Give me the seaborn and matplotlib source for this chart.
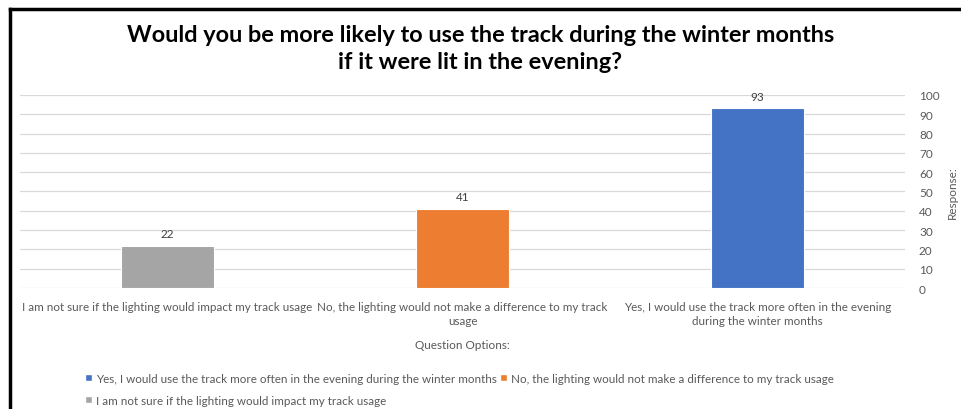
import matplotlib
matplotlib.use("Agg")
import matplotlib.pyplot as plt
import seaborn as sns
import pandas as pd
from matplotlib.patches import Patch
from matplotlib.lines import Line2D

# Dữ liệu
categories = [
    "I am not sure if the lighting would impact my track usage",
    "No, the lighting would not make a difference to my track usage",
    "Yes, I would use the track more often in the evening during the winter months",
]
tick_labels = [
    "I am not sure if the lighting would impact my track usage",
    "No, the lighting would not make a difference to my track\nusage",
    "Yes, I would use the track more often in the evening\nduring the winter months",
]
responses = [22, 41, 93]
colors = ["#A5A5A5", "#ED7D31", "#4472C4"]

sns.set_theme(style="white")
plt.rcParams['font.family'] = ['Lato', 'DejaVu Sans']

df = pd.DataFrame({"Option": categories, "Responses": responses})

fig = plt.figure(figsize=(9.61, 4.10), dpi=100)
ax = fig.add_axes([0.0208, 0.295, 0.921, 0.471])

sns.barplot(data=df, x="Option", y="Responses", hue="Option",
            palette=dict(zip(categories, colors)), width=0.315, saturation=1,
            edgecolor="white", linewidth=0.8, legend=False, ax=ax, zorder=3)

for cont in ax.containers:
    ax.bar_label(cont, padding=5, fontsize=8.5, color="#404040")

ax.set_ylim(0, 100)
ax.set_yticks(range(0, 101, 10))
ax.yaxis.tick_right()
ax.yaxis.set_label_position("right")
ax.tick_params(axis="y", length=0, pad=10, labelsize=8.5, labelcolor="#595959")
ax.tick_params(axis="x", length=0, pad=9, labelsize=8.4, labelcolor="#595959")
ax.set_xticks(range(3))
ax.set_xticklabels(tick_labels)
plt.setp(ax.get_xticklabels(), linespacing=1.4)
ax.set_ylabel("Response:", fontsize=8.5, color="#595959", labelpad=5)
ax.set_xlabel("Question Options:", fontsize=8.5, color="#595959", labelpad=9)
ax.grid(axis="y", color="#D9D9D9", linewidth=0.9, zorder=0)
ax.set_axisbelow(True)
for s in ax.spines.values():
    s.set_visible(False)

fig.suptitle("Would you be more likely to use the track during the winter months\nif it were lit in the evening?",
             y=0.88, va="center", fontsize=16.9, fontweight="bold", color="black", linespacing=1.33)

# Chú giải (2 hàng)
handles = [Patch(facecolor=c) for c in colors]
order = [2, 0, 1]
fig.legend([handles[i] for i in order], [categories[i] for i in order],
           ncol=2, loc="upper left", bbox_to_anchor=(0.084, 0.1),
           frameon=False, fontsize=8.4, handlelength=0.6, handleheight=0.6,
           handletextpad=0.3, columnspacing=0.3, labelspacing=0.95,
           borderaxespad=0, labelcolor="#595959")

# Khung viền đen
fig.add_artist(Line2D([9.5 / 961, 9.5 / 961], [0, 1 - 9.5 / 410], transform=fig.transFigure,
                      color="black", linewidth=2.5, solid_capstyle="projecting"))
fig.add_artist(Line2D([9.5 / 961, 1], [1 - 9.5 / 410, 1 - 9.5 / 410], transform=fig.transFigure,
                      color="black", linewidth=2.5, solid_capstyle="projecting"))

fig.savefig("out.png", dpi=100)
